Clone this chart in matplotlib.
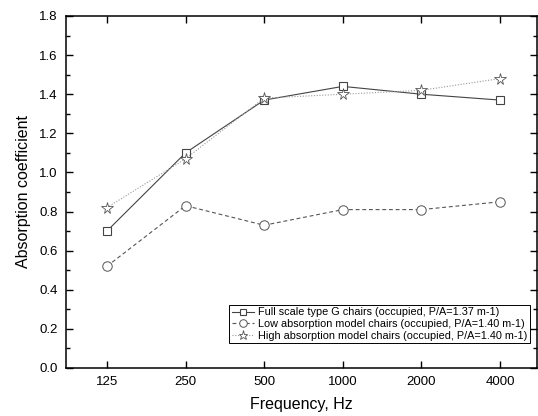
import matplotlib
matplotlib.use("Agg")
import matplotlib.pyplot as plt
from matplotlib.ticker import MultipleLocator

plt.rcParams['font.family'] = ['Liberation Sans', 'DejaVu Sans']

freqs = ["125", "250", "500", "1000", "2000", "4000"]
full_scale = [0.70, 1.10, 1.37, 1.44, 1.40, 1.37]
low_abs = [0.52, 0.83, 0.73, 0.81, 0.81, 0.85]
high_abs = [0.82, 1.07, 1.38, 1.40, 1.42, 1.48]
labels = ["Full scale type G chairs (occupied, P/A=1.37 m-1)",
          "Low absorption model chairs (occupied, P/A=1.40 m-1)",
          "High absorption model chairs (occupied, P/A=1.40 m-1)"]

fig = plt.figure(figsize=(5.38, 4.16), dpi=100)
ax = fig.add_axes([66/538, 48/416, (537-66)/538, (368-16)/416])
x = list(range(len(freqs)))
ax.plot(x, full_scale, color='#444444', lw=0.8, ls='-', marker='s', ms=6,
        mfc='white', mec='#444444', mew=0.8, label=labels[0])
ax.plot(x, low_abs, color='#555555', lw=0.8, ls=(0, (3.5, 2.5)), marker='o', ms=6.8,
        mfc='white', mec='#555555', mew=0.7, label=labels[1])
ax.plot(x, high_abs, color='#999999', lw=0.8, ls=(0, (1, 1.5)), marker='*', ms=8.5,
        mfc='white', mec='#555555', mew=0.6, label=labels[2])

ax.set_xlim(-0.52, 5.47)
ax.set_ylim(0, 1.8)
ax.set_xticks(x)
ax.set_xticklabels(freqs)
ax.yaxis.set_major_locator(MultipleLocator(0.2))
ax.yaxis.set_minor_locator(MultipleLocator(0.1))
ax.yaxis.set_major_formatter(matplotlib.ticker.FormatStrFormatter('%.1f'))
ax.tick_params(axis='both', which='major', direction='in', length=5, width=1,
               labelsize=9.5, top=True, right=True, pad=6)
ax.tick_params(axis='y', which='minor', direction='in', length=3, width=1, right=True)
for s in ax.spines.values():
    s.set_linewidth(1.1)
ax.set_xlabel("Frequency, Hz", fontsize=11.5, labelpad=6)
ax.set_ylabel("Absorption coefficient", fontsize=11.5, labelpad=6)

leg = ax.legend(loc='lower right', bbox_to_anchor=(0.985, 0.07), fontsize=7.8,
                frameon=True, fancybox=False, edgecolor='black', framealpha=1,
                borderpad=0.25, labelspacing=0.15, handlelength=2.0, handletextpad=0.4,
                borderaxespad=0, markerscale=0.8)
leg.get_frame().set_linewidth(0.7)

fig.savefig("out.png", dpi=100)
